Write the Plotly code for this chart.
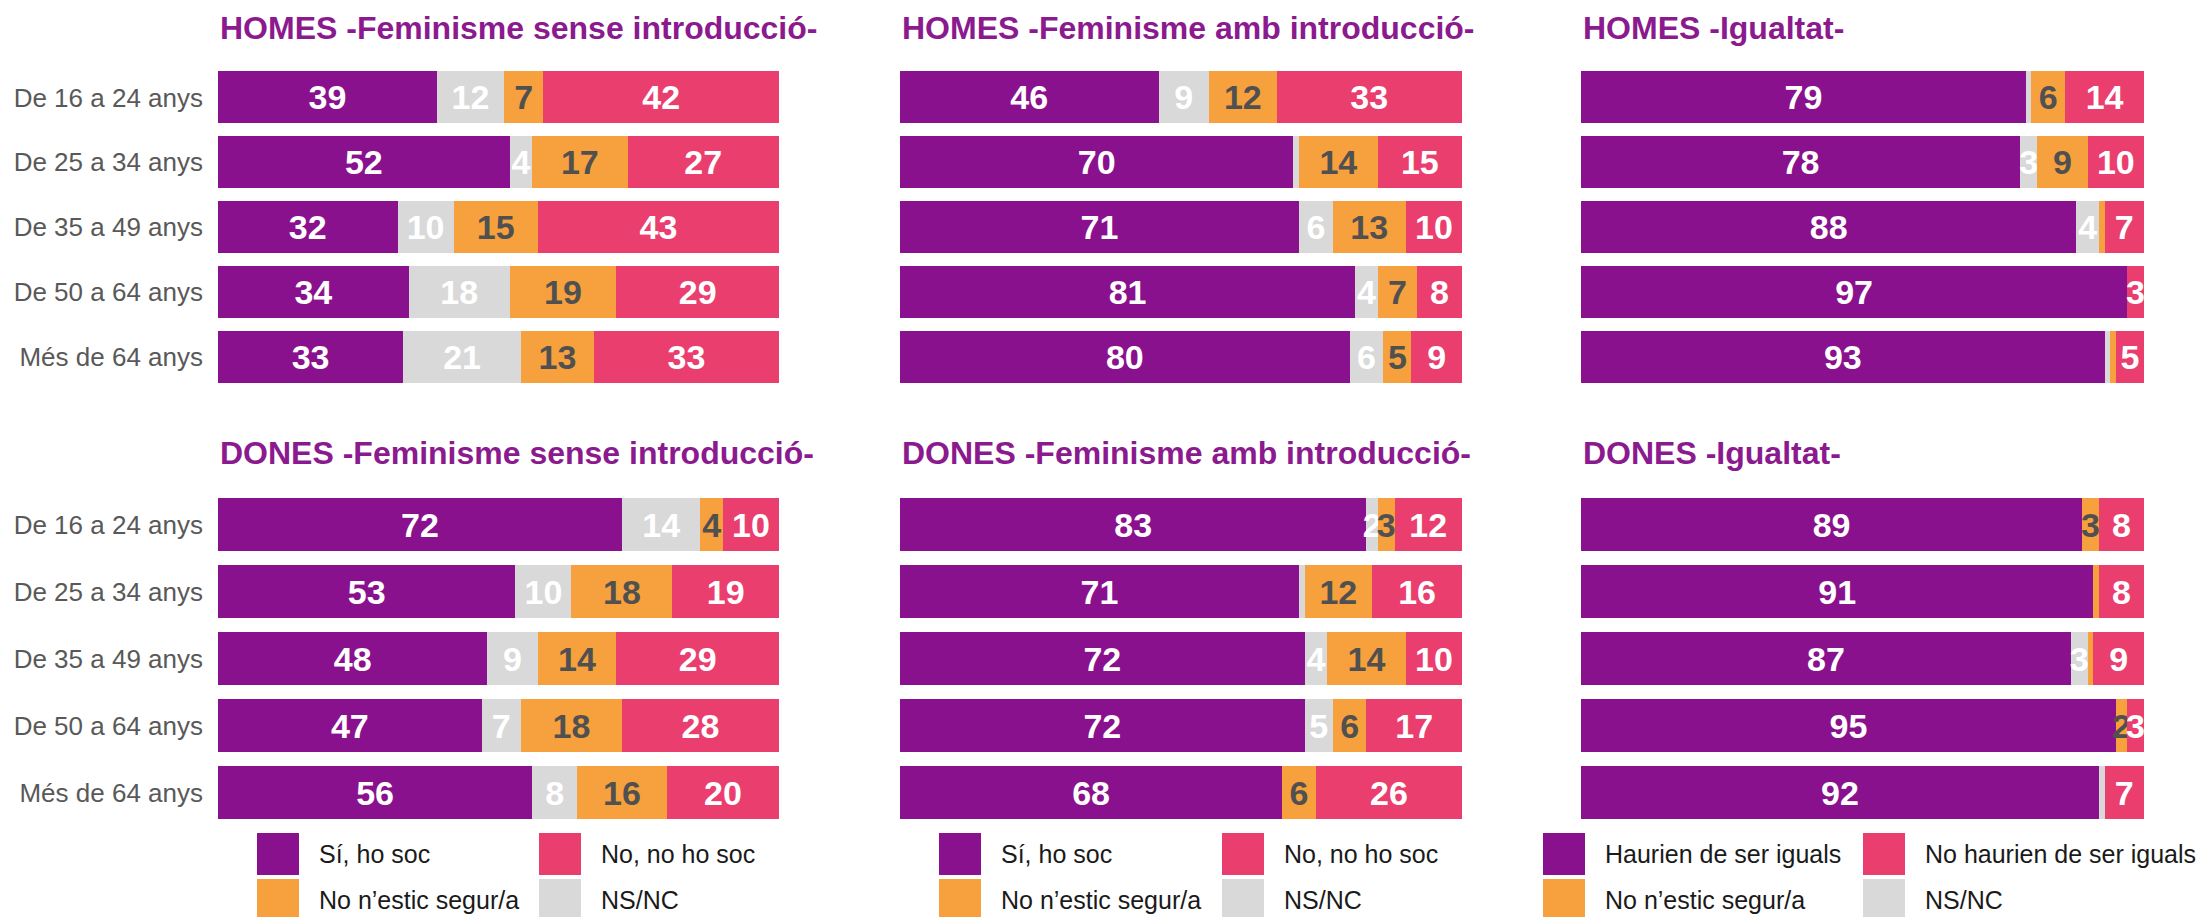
import plotly.graph_objects as go
from plotly.subplots import make_subplots

W, H = 2204, 917
PAD = 8  # page body margin, pixel positions below are from the picture's top-left

ages = ["De 16 a 24 anys", "De 25 a 34 anys", "De 35 a 49 anys", "De 50 a 64 anys", "Més de 64 anys"]

titles = ["HOMES -Feminisme sense introducció-", "HOMES -Feminisme amb introducció-", "HOMES -Igualtat-",
          "DONES -Feminisme sense introducció-", "DONES -Feminisme amb introducció-", "DONES -Igualtat-"]

# values per panel, order: yes / NS-NC / not sure / no
homes_sense_si = [39, 52, 32, 34, 33]
homes_sense_nsnc = [12, 4, 10, 18, 21]
homes_sense_dubte = [7, 17, 15, 19, 13]
homes_sense_no = [42, 27, 43, 29, 33]

homes_amb_si = [46, 70, 71, 81, 80]
homes_amb_nsnc = [9, 1, 6, 4, 6]
homes_amb_dubte = [12, 14, 13, 7, 5]
homes_amb_no = [33, 15, 10, 8, 9]

homes_igual_si = [79, 78, 88, 97, 93]
homes_igual_nsnc = [1, 3, 4, 0, 1]
homes_igual_dubte = [6, 9, 1, 0, 1]
homes_igual_no = [14, 10, 7, 3, 5]

dones_sense_si = [72, 53, 48, 47, 56]
dones_sense_nsnc = [14, 10, 9, 7, 8]
dones_sense_dubte = [4, 18, 14, 18, 16]
dones_sense_no = [10, 19, 29, 28, 20]

dones_amb_si = [83, 71, 72, 72, 68]
dones_amb_nsnc = [2, 1, 4, 5, 0]
dones_amb_dubte = [3, 12, 14, 6, 6]
dones_amb_no = [12, 16, 10, 17, 26]

dones_igual_si = [89, 91, 87, 95, 92]
dones_igual_nsnc = [0, 0, 3, 0, 1]
dones_igual_dubte = [3, 1, 1, 2, 0]
dones_igual_no = [8, 8, 9, 3, 7]

panels = [
    [homes_sense_si, homes_sense_nsnc, homes_sense_dubte, homes_sense_no],
    [homes_amb_si, homes_amb_nsnc, homes_amb_dubte, homes_amb_no],
    [homes_igual_si, homes_igual_nsnc, homes_igual_dubte, homes_igual_no],
    [dones_sense_si, dones_sense_nsnc, dones_sense_dubte, dones_sense_no],
    [dones_amb_si, dones_amb_nsnc, dones_amb_dubte, dones_amb_no],
    [dones_igual_si, dones_igual_nsnc, dones_igual_dubte, dones_igual_no],
]

fem_labels = ["Sí, ho soc", "NS/NC", "No n’estic segur/a", "No, no ho soc"]
igual_labels = ["Haurien de ser iguals", "NS/NC", "No n’estic segur/a", "No haurien de ser iguals"]

colors = ["#8a118d", "#d9d9d9", "#f6a13d", "#e93e6e"]
text_colors = ["white", "white", "#505050", "white"]
title_color = "#8b1a8e"
FONT = "Liberation Sans, Arial, sans-serif"


def px_x(v):
    return (v - PAD) / W


def px_y(v):
    return 1 - (v - PAD) / H


fig = make_subplots(rows=2, cols=3)

for p, series in enumerate(panels):
    row, col = p // 3 + 1, p % 3 + 1
    for s, vals in enumerate(series):
        fig.add_trace(go.Bar(
            x=vals, y=ages, orientation="h",
            marker=dict(color=colors[s], line=dict(width=0)),
            text=[str(v) if v >= 2 else "" for v in vals],
            textposition="inside", insidetextanchor="middle", textangle=0,
            constraintext="none",
            textfont=dict(family=FONT, size=34, color=text_colors[s], weight="bold"),
            showlegend=False, hoverinfo="skip",
        ), row=row, col=col)

# panel geometry in pixels
x_px = [(218, 779), (900, 1462), (1581, 2144)]
y_px = [(65, 389), (491, 826)]
title_y = [28, 453]

for p in range(6):
    r, c = p // 3, p % 3
    ax = "" if p == 0 else str(p + 1)
    fig.layout["xaxis" + ax].update(domain=[px_x(x_px[c][0]), px_x(x_px[c][1])], range=[0, 100],
                                   visible=False, fixedrange=True)
    fig.layout["yaxis" + ax].update(domain=[px_y(y_px[r][1]), px_y(y_px[r][0])],
                                   type="category", categoryorder="array", categoryarray=ages,
                                   autorange="reversed", showgrid=False, zeroline=False,
                                   showline=False, ticks="", showticklabels=(c == 0),
                                   ticklabelstandoff=14,
                                   tickfont=dict(family=FONT, size=26, color="#595959"))
    fig.add_annotation(text=titles[p], xref="paper", yref="paper",
                       x=px_x(x_px[c][0]), y=px_y(title_y[r]), xanchor="left", yanchor="middle",
                       showarrow=False,
                       font=dict(family=FONT, size=32, color=title_color, weight="bold"))

# legends below each column: 2x2 grid of big swatches
leg_x = [257, 939, 1543]
leg_col2 = [282, 283, 320]
leg_rows = [833, 879]
order = [0, 3, 2, 1]
for c in range(3):
    labels = igual_labels if c == 2 else fem_labels
    for k, s in enumerate(order):
        x0 = leg_x[c] + (k % 2) * leg_col2[c]
        y0 = leg_rows[k // 2]
        fig.add_shape(type="rect", xref="paper", yref="paper",
                      x0=px_x(x0), x1=px_x(x0 + 42), y0=px_y(y0), y1=px_y(y0 + 42),
                      fillcolor=colors[s], line=dict(width=0))
        fig.add_annotation(text=labels[s], xref="paper", yref="paper",
                           x=px_x(x0 + 60), y=px_y(y0 + 21), xanchor="left", yanchor="middle",
                           showarrow=False, font=dict(family=FONT, size=25, color="#1a1a1a"))

fig.update_layout(
    width=W, height=H, barmode="stack", bargap=0.2,
    margin=dict(l=0, r=0, t=0, b=0),
    paper_bgcolor="white", plot_bgcolor="white",
    font=dict(family=FONT),
)

fig.write_html("out.html")
